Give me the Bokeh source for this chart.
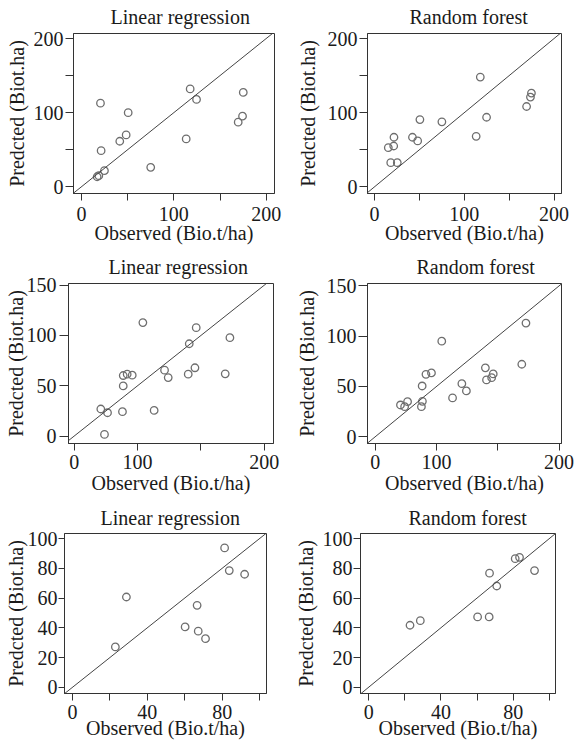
from bokeh.plotting import figure
from bokeh.layouts import column, row
from bokeh.models import FixedTicker, Slope, Range1d
from bokeh.embed import file_html
from bokeh.resources import INLINE

FONT = "Liberation Serif"
TITLES = ["Linear regression", "Random forest"]
X_LABEL = "Observed (Bio.t/ha)"
Y_LABEL = "Predcted (Biot.ha)"

TOP_TICKS = [0, 50, 100, 150, 200]
TOP_LABELS = ["0", "", "100", "", "200"]
MID_X_TICKS = [0, 50, 100, 150]
MID_X_LABELS = ["0", "100", "", "200"]
MID_Y_TICKS = [0, 50, 100, 150]
MID_Y_LABELS = ["0", "50", "100", "150"]
BOT_X_TICKS = [0, 20, 40, 60, 80, 100]
BOT_X_LABELS = ["0", "", "40", "", "80", ""]
BOT_Y_TICKS = [0, 20, 40, 60, 80, 100]
BOT_Y_LABELS = ["0", "20", "40", "60", "80", "100"]

lr1_obs = [17.0, 18.8, 24.9, 20.6, 21.3, 41.5, 48.4, 50.6, 75.0, 113.4, 117.7, 124.6, 169.7, 174.4, 175.2]
lr1_pred = [13.5, 14.9, 21.7, 112.8, 48.7, 61.4, 70.0, 100.0, 26.2, 64.5, 132.0, 117.8, 87.1, 95.3, 127.3]
rf1_obs = [15.3, 21.6, 21.3, 18.0, 25.3, 42.2, 48.0, 50.5, 75.0, 113.2, 117.8, 124.8, 169.4, 173.7, 174.8]
rf1_pred = [52.8, 66.8, 55.0, 32.5, 32.5, 66.8, 61.9, 90.7, 87.6, 68.1, 148.0, 93.8, 108.3, 121.0, 126.4]

lr2_obs = [21.0, 26.3, 23.9, 38.1, 38.7, 38.7, 41.8, 45.8, 54.2, 63.1, 71.3, 74.2, 90.0, 90.8, 95.3, 96.3, 119.2, 122.9]
lr2_pred = [26.9, 23.2, 1.6, 24.2, 49.9, 60.2, 61.5, 60.5, 112.8, 25.5, 65.5, 58.2, 61.5, 91.8, 67.9, 107.8, 61.9, 97.8]
rf2_obs = [20.6, 24.0, 26.4, 37.7, 38.5, 38.3, 41.4, 45.9, 54.3, 63.1, 70.7, 74.4, 89.9, 90.8, 95.0, 96.3, 119.6, 123.0]
rf2_pred = [31.6, 29.9, 34.9, 29.9, 35.2, 50.5, 62.1, 63.5, 95.0, 38.6, 52.8, 45.6, 68.5, 56.5, 58.8, 62.5, 72.1, 113.0]

lr3_obs = [22.9, 28.8, 60.2, 66.6, 67.2, 71.1, 81.3, 83.8, 92.0]
lr3_pred = [27.1, 60.7, 40.6, 55.1, 37.7, 32.7, 93.7, 78.5, 76.0]
rf3_obs = [22.9, 28.6, 60.3, 66.7, 66.9, 70.9, 81.1, 83.5, 91.8]
rf3_pred = [41.7, 44.8, 47.3, 47.3, 76.7, 68.1, 86.5, 87.4, 78.5]

INK = "#1a1a1a"
AXIS = "#333333"
PT = "#6e6e6e"


def panel(title, obs, pred, xr, yr, xt, xl, yt, yl, size, borders, yaxis, xaxis, title_pos):
    w, h = size
    ml, mr, mt, mb = borders
    ytick_out, ystandoff, ylab_standoff = yaxis
    xstandoff, xlab_standoff = xaxis
    t_offset, t_standoff = title_pos
    p = figure(width=w, height=h, output_backend="svg", toolbar_location=None,
               x_range=Range1d(*xr), y_range=Range1d(*yr),
               min_border_left=ml, min_border_right=mr,
               min_border_top=mt, min_border_bottom=mb,
               background_fill_color="white", border_fill_color="white")
    p.grid.visible = False
    p.outline_line_color = AXIS
    p.outline_line_width = 1

    p.title.text = title
    p.title.align = "left"
    p.title.vertical_align = "top"
    p.title.offset = t_offset
    p.title.standoff = t_standoff
    p.title.text_font = FONT
    p.title.text_font_size = "20px"
    p.title.text_font_style = "normal"
    p.title.text_color = INK

    for ax in (p.xaxis[0], p.yaxis[0]):
        ax.axis_line_color = AXIS
        ax.major_tick_line_color = AXIS
        ax.minor_tick_line_color = None
        ax.major_tick_in = 0
        ax.major_label_text_font = FONT
        ax.major_label_text_font_size = "20px"
        ax.major_label_text_color = INK
        ax.axis_label_text_font = FONT
        ax.axis_label_text_font_size = "20px"
        ax.axis_label_text_font_style = "normal"
        ax.axis_label_text_color = INK

    xa = p.xaxis[0]
    xa.ticker = FixedTicker(ticks=xt)
    xa.major_label_overrides = {t: s for t, s in zip(xt, xl)}
    xa.major_tick_out = 7
    xa.major_label_standoff = xstandoff
    xa.axis_label = X_LABEL
    xa.axis_label_standoff = xlab_standoff

    ya = p.yaxis[0]
    ya.ticker = FixedTicker(ticks=yt)
    ya.major_label_overrides = {t: s for t, s in zip(yt, yl)}
    ya.major_tick_out = ytick_out
    ya.major_label_standoff = ystandoff
    ya.axis_label = Y_LABEL
    ya.axis_label_standoff = ylab_standoff

    p.add_layout(Slope(gradient=1, y_intercept=0, line_color="#444444", line_width=1))
    p.scatter(obs, pred, marker="circle", size=7.5, fill_color=None,
              line_color=PT, line_width=1.3)
    return p


p1 = panel(TITLES[0], lr1_obs, lr1_pred, (-8.6, 209), (-9.1, 206.8), TOP_TICKS, TOP_LABELS,
           TOP_TICKS, TOP_LABELS, (293, 250), (73, 19, 33, 57), (8, 2, 3), (6, -2), (37, 7))
p2 = panel(TITLES[1], rf1_obs, rf1_pred, (-7.9, 208.3), (-9.1, 206.8), TOP_TICKS, TOP_LABELS,
           TOP_TICKS, TOP_LABELS, (282, 250), (68, 14, 33, 57), (8, 2, 6), (6, -2), (42, 7))
p3 = panel(TITLES[0], lr2_obs, lr2_pred, (-4.5, 157.3), (-7.4, 151.7), MID_X_TICKS, MID_X_LABELS,
           MID_Y_TICKS, MID_Y_LABELS, (292, 250), (68, 19, 33, 57), (9, 3, -3), (4, 0), (40, 7))
p4 = panel(TITLES[1], rf2_obs, rf2_pred, (-6.3, 152.0), (-6.7, 152.4), MID_X_TICKS, MID_X_LABELS,
           MID_Y_TICKS, MID_Y_LABELS, (283, 250), (69, 14, 33, 57), (9, 2, 6), (4, 0), (49, 7))
p5 = panel(TITLES[0], lr3_obs, lr3_pred, (-4.3, 103.7), (-4.2, 103.4), BOT_X_TICKS, BOT_X_LABELS,
           BOT_Y_TICKS, BOT_Y_LABELS, (291, 244), (64, 25, 33, 51), (6, 1, -2), (4, -5), (36, 5))
p6 = panel(TITLES[1], rf3_obs, rf3_pred, (-4.5, 103.4), (-4.2, 103.4), BOT_X_TICKS, BOT_X_LABELS,
           BOT_Y_TICKS, BOT_Y_LABELS, (284, 244), (63, 20, 33, 51), (7, 1, 3), (4, -5), (48, 5))

layout = column(row(p1, p2), row(p3, p4), row(p5, p6))

with open("out.html", "w") as f:
    f.write(file_html(layout, INLINE))
